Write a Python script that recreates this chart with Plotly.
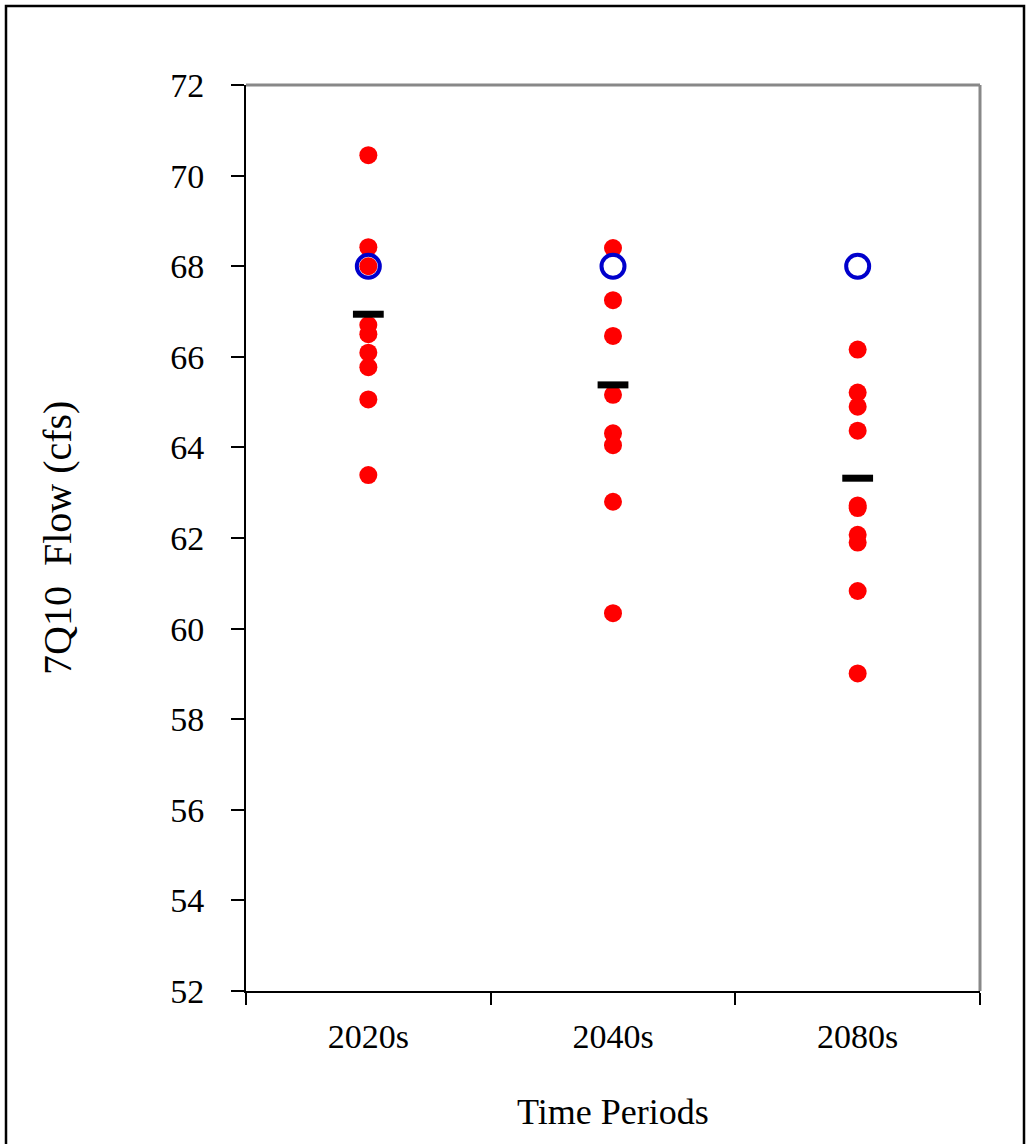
import plotly.graph_objects as go

periods = ["2020s", "2040s", "2080s"]

proj_2020s = [70.45, 68.42, 68.0, 66.70, 66.50, 66.09, 65.77, 65.06, 63.39]
proj_2040s = [68.40, 67.25, 66.46, 65.16, 64.31, 64.05, 62.80, 60.34]
proj_2080s = [66.16, 65.21, 64.90, 64.37, 62.72, 62.66, 62.07, 61.90, 60.83, 59.01]

baseline = [68.0, 68.0, 68.0]
proj_mean = [66.94, 65.38, 63.32]

y_ticks = [52, 54, 56, 58, 60, 62, 64, 66, 68, 70, 72]

FONT = "Liberation Serif, Times New Roman, serif"

red_x, red_y = [], []
for p, vals in zip(periods, [proj_2020s, proj_2040s, proj_2080s]):
    red_x += [p] * len(vals)
    red_y += vals

fig = go.Figure()
fig.add_trace(go.Scatter(
    x=red_x, y=red_y, mode="markers",
    marker=dict(symbol="circle", size=18, color="#FF0000", line=dict(width=0)),
    showlegend=False))
fig.add_trace(go.Scatter(
    x=periods, y=baseline, mode="markers",
    marker=dict(symbol="circle-open", size=23, color="#0000CC", line=dict(width=4, color="#0000CC")),
    showlegend=False))
fig.add_trace(go.Scatter(
    x=periods, y=proj_mean, mode="markers",
    marker=dict(symbol="line-ew", size=22, color="#000000", line=dict(width=7, color="#000000")),
    showlegend=False))

L, R, T, B = 246, 46, 85, 153
W, H = 1026, 1144
pw, ph = W - L - R, H - T - B

def px(x):
    return (x - L) / pw

def py(y):
    return (H - B - y) / ph

fig.update_layout(
    width=W, height=H,
    margin=dict(l=L, r=R, t=T, b=B),
    paper_bgcolor="white", plot_bgcolor="white",
    font=dict(family=FONT, size=34, color="black"),
    xaxis=dict(
        type="category", categoryorder="array", categoryarray=periods,
        range=[-0.5, 2.5], tickson="boundaries",
        ticks="outside", ticklen=12, tickwidth=2, tickcolor="black",
        showline=True, linecolor="black", linewidth=2,
        showgrid=False, zeroline=False,
        ticklabelstandoff=14,
        tickfont=dict(family=FONT, size=34, color="black"),
    ),
    yaxis=dict(
        range=[52, 72], tickmode="array", tickvals=y_ticks,
        ticktext=[str(v) for v in y_ticks],
        ticks="outside", ticklen=13, tickwidth=2, tickcolor="black",
        showline=True, linecolor="black", linewidth=2,
        showgrid=False, zeroline=False,
        ticklabelstandoff=20,
        tickfont=dict(family=FONT, size=34, color="black"),
    ),
    shapes=[
        dict(type="line", xref="paper", yref="paper", x0=0, x1=1, y0=1, y1=1,
             line=dict(color="#888888", width=3)),
        dict(type="line", xref="paper", yref="paper", x0=1, x1=1, y0=0, y1=1,
             line=dict(color="#888888", width=3)),
        dict(type="rect", xref="paper", yref="paper",
             x0=px(6), x1=px(1024), y0=py(1150), y1=py(6),
             line=dict(color="black", width=2.5)),
    ],
    annotations=[
        dict(text="7Q10  Flow (cfs)", xref="paper", yref="paper",
             x=px(57), y=py(538), textangle=-90, showarrow=False,
             xanchor="center", yanchor="middle",
             font=dict(family=FONT, size=40, color="black")),
        dict(text="Time Periods", xref="paper", yref="paper",
             x=px(613), y=py(1112), showarrow=False,
             xanchor="center", yanchor="middle",
             font=dict(family=FONT, size=36, color="black")),
    ],
)

fig.write_html("out.html")
